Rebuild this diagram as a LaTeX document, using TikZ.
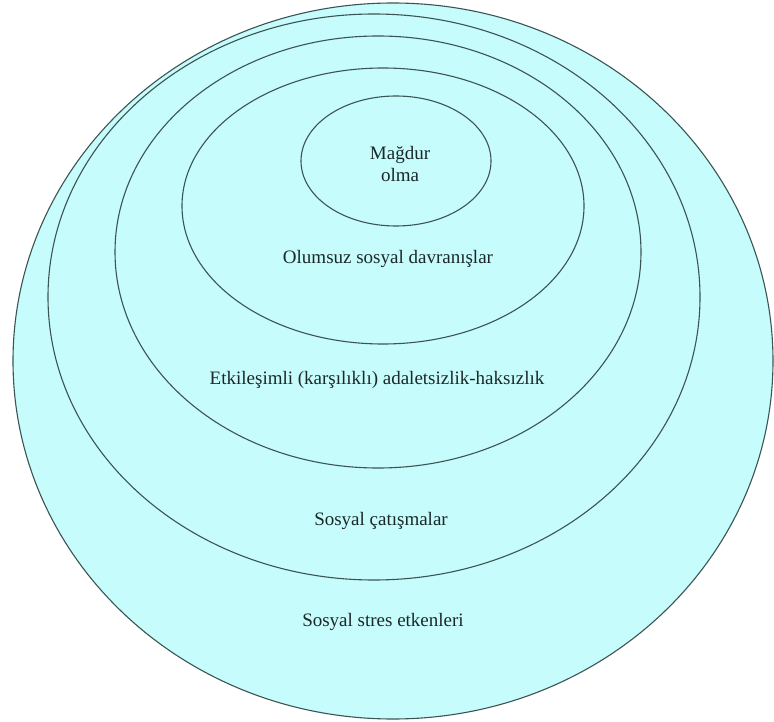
\documentclass[tikz,border=0pt]{standalone}
\usepackage{fontspec}
\setmainfont{Liberation Serif}
\definecolor{halka}{RGB}{198,252,252}
\definecolor{cizgi}{RGB}{60,84,84}
\definecolor{yazi}{RGB}{28,40,40}
\begin{document}
\begin{tikzpicture}[x=1pt,y=-1pt,
    halkastil/.style={draw=cizgi,fill=halka,line width=1.1pt},
    etiket/.style={text=yazi,font=\fontsize{19}{22}\selectfont,align=center,inner sep=0pt}]
    \useasboundingbox (0,0) rectangle (774,722);
    % Dıştan içe doğru halkalar
    \draw[halkastil] (393,361) ellipse [x radius=380,y radius=358];
    \draw[halkastil] (374,297) ellipse [x radius=326,y radius=283];
    \draw[halkastil] (378,252) ellipse [x radius=263,y radius=216];
    \draw[halkastil] (383,206) ellipse [x radius=201,y radius=138];
    \draw[halkastil] (396,161) ellipse [x radius=95,y radius=65];
    % Etiketler
    \node[etiket] (magdur) at (400,164) {Mağdur\\olma};
    \node[etiket] (olumsuz) at (388,259) {Olumsuz sosyal davranışlar};
    \node[etiket] (etkilesim) at (377,380) {Etkileşimli (karşılıklı) adaletsizlik-haksızlık};
    \node[etiket] (catisma) at (381,521) {Sosyal çatışmalar};
    \node[etiket] (stres) at (383,622) {Sosyal stres etkenleri};
\end{tikzpicture}
\end{document}
